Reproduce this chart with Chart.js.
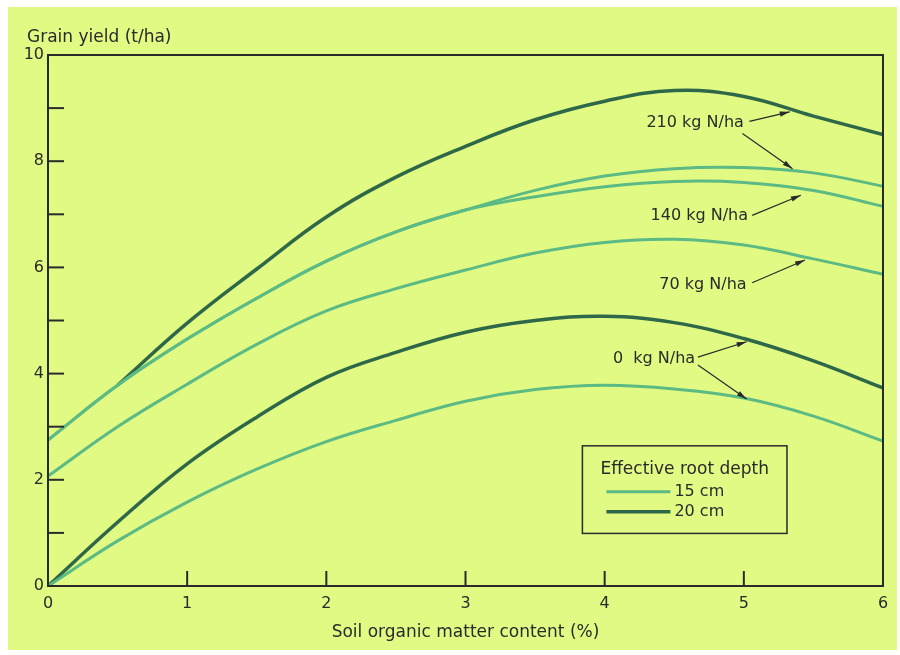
<!DOCTYPE html>
<html>
<head>
<meta charset="utf-8">
<script src="https://cdn.jsdelivr.net/npm/chart.js@4.4.1/dist/chart.umd.min.js"></script>
<style>
  html, body { margin: 0; padding: 0; background: #fff; }
  #wrap { width: 900px; height: 655px; }
</style>
</head>
<body>
<div id="wrap"><canvas id="myChart" width="900" height="655"></canvas></div>
<script>
// soil organic matter content (%)
const somContent = [0, 0.5, 1, 1.5, 2, 2.5, 3, 3.5, 4, 4.5, 5, 5.5, 6];

// grain yield (t/ha)
const n210deep    = [null, 3.78, 4.95, 5.97, 6.95, 7.70, 8.28, 8.78, 9.13, 9.33, 9.22, 8.85, 8.50];
const n210shallow = [2.75, 3.78, 4.65, 5.42, 6.12, 6.67, 7.08, 7.45, 7.72, 7.86, 7.88, 7.78, 7.53];
const n140shallow = [2.75, 3.78, 4.65, 5.42, 6.12, 6.67, 7.08, 7.33, 7.52, 7.62, 7.60, 7.45, 7.15];
const n70shallow  = [2.07, 3.00, 3.80, 4.55, 5.18, 5.60, 5.95, 6.27, 6.47, 6.53, 6.42, 6.16, 5.87];
const n0deep      = [0, 1.20, 2.30, 3.18, 3.93, 4.40, 4.78, 5.00, 5.08, 4.96, 4.66, 4.24, 3.73];
const n0shallow   = [0, 0.85, 1.58, 2.20, 2.72, 3.12, 3.48, 3.70, 3.78, 3.71, 3.54, 3.20, 2.73];

const xTickLabels = ['0', '1', '2', '3', '4', '5', '6'];
const yTickLabels = ['0', '2', '4', '6', '8', '10'];
const xMinorTicks = [1, 2, 3, 4, 5];
const yMinorTicks = [1, 2, 3, 4, 5, 6, 7, 8, 9];

// curve labels with arrows, in data units
const curveLabels = [
  { text: '210 kg N/ha', x: 5.0, y: 8.72, arrows: [[5.04, 8.75, 5.33, 8.93], [4.99, 8.52, 5.35, 7.86]] },
  { text: '140 kg N/ha', x: 5.03, y: 6.97, arrows: [[5.06, 6.98, 5.41, 7.36]] },
  { text: '70 kg N/ha', x: 5.02, y: 5.68, arrows: [[5.06, 5.71, 5.44, 6.14]] },
  { text: '0  kg N/ha', x: 4.65, y: 4.27, arrows: [[4.67, 4.31, 5.02, 4.60], [4.67, 4.16, 5.02, 3.52]] }
];

const lightGreen = '#5cba84';
const darkGreen = '#2e6848';
const ink = '#2a2a2a';
const paper = '#e0fa84';
const fontName = '"DejaVu Sans", sans-serif';

function pts(arr) {
  return somContent.map((x, i) => ({ x: x, y: arr[i] }));
}

function line(label, arr, color, width) {
  return {
    label: label,
    data: pts(arr),
    borderColor: color,
    backgroundColor: color,
    borderWidth: width,
    pointRadius: 0,
    tension: 0.4,
    spanGaps: false,
    fill: false
  };
}

function arrow(ctx, x1, y1, x2, y2) {
  ctx.beginPath();
  ctx.moveTo(x1, y1);
  ctx.lineTo(x2, y2);
  ctx.stroke();
  const a = Math.atan2(y2 - y1, x2 - x1);
  const len = 10, w = 2.6;
  ctx.beginPath();
  ctx.moveTo(x2, y2);
  ctx.lineTo(x2 - len * Math.cos(a) + w * Math.sin(a), y2 - len * Math.sin(a) - w * Math.cos(a));
  ctx.lineTo(x2 - len * Math.cos(a) - w * Math.sin(a), y2 - len * Math.sin(a) + w * Math.cos(a));
  ctx.closePath();
  ctx.fill();
}

const decor = {
  id: 'decor',
  beforeDraw(chart) {
    const ctx = chart.ctx;
    ctx.save();
    ctx.fillStyle = paper;
    ctx.fillRect(8, 7, 889, 643);
    ctx.restore();
  },
  afterDatasetsDraw(chart) {
    const ctx = chart.ctx;
    const a = chart.chartArea;
    const xs = chart.scales.x, ys = chart.scales.y;
    ctx.save();
    // frame
    ctx.strokeStyle = ink;
    ctx.lineWidth = 2;
    ctx.strokeRect(a.left, a.top, a.right - a.left, a.bottom - a.top);
    // inward ticks
    yMinorTicks.forEach(v => {
      const py = ys.getPixelForValue(v);
      ctx.beginPath(); ctx.moveTo(a.left, py); ctx.lineTo(a.left + 16, py); ctx.stroke();
    });
    xMinorTicks.forEach(v => {
      const px = xs.getPixelForValue(v);
      ctx.beginPath(); ctx.moveTo(px, a.bottom); ctx.lineTo(px, a.bottom - 15); ctx.stroke();
    });
    // y axis title
    ctx.fillStyle = ink;
    ctx.font = '17px ' + fontName;
    ctx.textAlign = 'left';
    ctx.textBaseline = 'middle';
    ctx.fillText('Grain yield (t/ha)', 27, 38);
    // curve labels
    ctx.font = '16px ' + fontName;
    ctx.lineWidth = 1.2;
    ctx.strokeStyle = ink;
    curveLabels.forEach(l => {
      ctx.textAlign = 'right';
      ctx.fillText(l.text, xs.getPixelForValue(l.x), ys.getPixelForValue(l.y));
      l.arrows.forEach(r => {
        arrow(ctx, xs.getPixelForValue(r[0]), ys.getPixelForValue(r[1]),
                   xs.getPixelForValue(r[2]), ys.getPixelForValue(r[3]));
      });
    });
    // legend box
    const bx1 = xs.getPixelForValue(3.84), bx2 = xs.getPixelForValue(5.31);
    const by1 = ys.getPixelForValue(2.64), by2 = ys.getPixelForValue(0.99);
    ctx.lineWidth = 1.5;
    ctx.strokeRect(bx1, by1, bx2 - bx1, by2 - by1);
    ctx.textAlign = 'left';
    ctx.font = '17px ' + fontName;
    ctx.fillText('Effective root depth', bx1 + 18, by1 + 24);
    ctx.font = '16px ' + fontName;
    const items = [['15 cm', chart.data.datasets[0]], ['20 cm', chart.data.datasets[4]]];
    items.forEach((it, i) => {
      const yy = by1 + 46 + i * 20;
      ctx.strokeStyle = it[1].borderColor;
      ctx.lineWidth = it[1].borderWidth;
      ctx.beginPath(); ctx.moveTo(bx1 + 24, yy); ctx.lineTo(bx1 + 88, yy); ctx.stroke();
      ctx.fillText(it[0], bx1 + 92, yy);
    });
    ctx.restore();
  }
};

new Chart(document.getElementById('myChart'), {
  type: 'line',
  data: {
    datasets: [
      line('210 kg N/ha, 15 cm', n210shallow, lightGreen, 3),
      line('140 kg N/ha, 15 cm', n140shallow, lightGreen, 3),
      line('70 kg N/ha, 15 cm', n70shallow, lightGreen, 3),
      line('0 kg N/ha, 15 cm', n0shallow, lightGreen, 3),
      line('210 kg N/ha, 20 cm', n210deep, darkGreen, 3.5),
      line('0 kg N/ha, 20 cm', n0deep, darkGreen, 3.5)
    ]
  },
  options: {
    responsive: false,
    animation: false,
    layout: { padding: { left: 0, right: 17, top: 55, bottom: 8 } },
    plugins: { legend: { display: false }, tooltip: { enabled: false } },
    scales: {
      x: {
        type: 'linear',
        min: 0, max: 6,
        grid: { display: false, drawTicks: false },
        border: { display: false },
        ticks: {
          stepSize: 1, color: ink, padding: 8,
          font: { family: fontName, size: 16 },
          callback: (v) => xTickLabels[v]
        },
        title: {
          display: true, text: 'Soil organic matter content (%)', color: ink,
          font: { family: fontName, size: 17 }, padding: { top: 4 }
        },
        afterFit(s) { s.height = 61; }
      },
      y: {
        min: 0, max: 10,
        grid: { display: false, drawTicks: false },
        border: { display: false },
        ticks: {
          stepSize: 2, color: ink, padding: 4,
          font: { family: fontName, size: 16 },
          callback: (v) => yTickLabels[v / 2]
        },
        afterFit(s) { s.width = 48; }
      }
    }
  },
  plugins: [decor]
});
</script>
</body>
</html>
